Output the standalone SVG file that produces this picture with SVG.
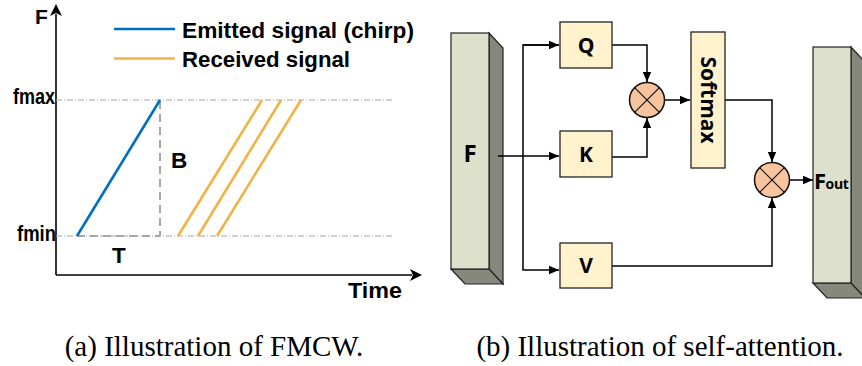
<svg xmlns="http://www.w3.org/2000/svg" width="862" height="366" viewBox="0 0 862 366">
<defs>
<style>
.lbl{font-family:"Liberation Sans",Arial,sans-serif;font-weight:bold;fill:#000}
.nl{font-family:"Open Sans","Noto Sans",sans-serif;font-weight:bold;fill:#000}
.cap{font-family:"Liberation Serif","Times New Roman",serif;fill:#000;font-size:29px}
.box{fill:#fff2cc;stroke:#222;stroke-width:1.3}
.front{fill:#dde1cb;stroke:#222;stroke-width:1.2}
.side{fill:#85887b;stroke:#222;stroke-width:1.2}
.mul{fill:#f8c49e;stroke:#111;stroke-width:1.5}
.x{stroke:#111;stroke-width:1.2}
.conn{fill:none;stroke:#000;stroke-width:1.5}
.grid{stroke:#a6a6a6;stroke-width:1;stroke-dasharray:6 2 1 2;fill:none}
.gdash{stroke:#a6a6a6;stroke-width:2;stroke-dasharray:8 5;fill:none}
.blue{stroke:#0070c0;stroke-width:2.6;fill:none}
.orange{stroke:#f2b244;stroke-width:2.6;fill:none}
</style>
<marker id="ah" markerUnits="userSpaceOnUse" markerWidth="10" markerHeight="10" viewBox="0 0 10 10" refX="10" refY="5" orient="auto">
<path d="M0,0.8 L10,5 L0,9.2 z" fill="#000"/>
</marker>
</defs>

<g id="fmcw">
<g id="axes">
<line x1="56" y1="275" x2="56" y2="14" stroke="#000" stroke-width="1.6"/>
<polygon points="56,4 62,16 56,13 50,16" fill="#000"/>
<line x1="56" y1="275" x2="412" y2="275" stroke="#000" stroke-width="1.6"/>
<polygon points="422,275 410,269 413,275 410,281" fill="#000"/>
<text class="lbl" x="35" y="24" font-size="21">F</text>
<text class="lbl" x="348" y="298" font-size="22.5" textLength="54" lengthAdjust="spacingAndGlyphs">Time</text>
</g>
<g id="legend">
<line x1="114" y1="29" x2="175" y2="29" class="blue"/>
<line x1="114" y1="58.5" x2="175" y2="58.5" class="orange"/>
<text class="lbl" x="182" y="37.5" font-size="22" textLength="232" lengthAdjust="spacingAndGlyphs">Emitted signal (chirp)</text>
<text class="lbl" x="182" y="66.5" font-size="22" textLength="168" lengthAdjust="spacingAndGlyphs">Received signal</text>
</g>
<g id="levels">
<line x1="56" y1="100" x2="392" y2="100" class="grid"/>
<line x1="56" y1="236" x2="392" y2="236" class="grid"/>
<text class="lbl" x="13" y="104" font-size="22.5" textLength="42" lengthAdjust="spacingAndGlyphs">fmax</text>
<text class="lbl" x="17" y="241" font-size="22.5" textLength="39" lengthAdjust="spacingAndGlyphs">fmin</text>
</g>
<g id="chirp">
<line x1="160" y1="101" x2="160" y2="236" class="gdash"/>
<line x1="77" y1="236" x2="160" y2="236" class="gdash"/>
<line x1="77" y1="236" x2="160" y2="100" class="blue"/>
<text class="lbl" x="171" y="168" font-size="22.5">B</text>
<text class="lbl" x="112" y="263" font-size="22.5">T</text>
</g>
<g id="received">
<line x1="178" y1="236" x2="262" y2="100" class="orange"/>
<line x1="198" y1="236" x2="281" y2="100" class="orange"/>
<line x1="217" y1="236" x2="301" y2="100" class="orange"/>
</g>
</g>

<g id="node-F">
<polygon class="side" points="489,33 503,48 503,284 489,269"/>
<polygon class="side" points="451,269 489,269 503,284 465,284"/>
<rect class="front" x="451" y="33" width="38" height="236"/>
<text class="nl" x="470" y="162" font-size="24" text-anchor="middle">F</text>
</g>

<g id="connectors">
<path class="conn" d="M498,156 L559,156" marker-end="url(#ah)"/>
<path class="conn" d="M559,45 L523,45 L523,270 L559,270" marker-end="url(#ah)"/>
<path class="conn" d="M523,45 L559,45" marker-end="url(#ah)"/>
<path class="conn" d="M612,45 L647,45 L647,82" marker-end="url(#ah)"/>
<path class="conn" d="M612,157 L647,157 L647,118" marker-end="url(#ah)"/>
<path class="conn" d="M665,100 L690,100" marker-end="url(#ah)"/>
<path class="conn" d="M725,100 L772,100 L772,162" marker-end="url(#ah)"/>
<path class="conn" d="M612,266 L772,266 L772,198" marker-end="url(#ah)"/>
<path class="conn" d="M790,180 L813,180" marker-end="url(#ah)"/>
</g>

<g id="node-Q">
<rect class="box" x="560" y="22" width="52" height="46"/>
<text class="nl" x="586" y="53" font-size="21" text-anchor="middle">Q</text>
</g>
<g id="node-K">
<rect class="box" x="560" y="131" width="52" height="46"/>
<text class="nl" x="586" y="162" font-size="21" text-anchor="middle">K</text>
</g>
<g id="node-V">
<rect class="box" x="560" y="243" width="52" height="45"/>
<text class="nl" x="586" y="273" font-size="21" text-anchor="middle">V</text>
</g>

<g id="node-mul1">
<circle class="mul" cx="647" cy="100" r="17.5"/>
<line class="x" x1="634.6" y1="87.6" x2="659.4" y2="112.4"/>
<line class="x" x1="659.4" y1="87.6" x2="634.6" y2="112.4"/>
</g>

<g id="node-softmax">
<rect class="box" x="691" y="32" width="34" height="136"/>
<text class="nl" font-size="21" text-anchor="middle" transform="translate(708,100) rotate(90)" x="0" y="7.5">Softmax</text>
</g>

<g id="node-mul2">
<circle class="mul" cx="772" cy="180" r="17.5"/>
<line class="x" x1="759.6" y1="167.6" x2="784.4" y2="192.4"/>
<line class="x" x1="784.4" y1="167.6" x2="759.6" y2="192.4"/>
</g>

<g id="node-Fout">
<polygon class="side" points="851,47 865,62 865,298 851,283"/>
<polygon class="side" points="813,283 851,283 865,298 827,298"/>
<rect class="front" x="813" y="47" width="38" height="236"/>
<text class="nl" x="814" y="189" font-size="22" letter-spacing="-0.5">F<tspan font-size="14" letter-spacing="-0.3">out</tspan></text>
</g>

<g id="captions">
<text class="cap" x="214" y="356" text-anchor="middle">(a) Illustration of FMCW.</text>
<text class="cap" x="660" y="356" text-anchor="middle">(b) Illustration of self-attention.</text>
</g>
</svg>
